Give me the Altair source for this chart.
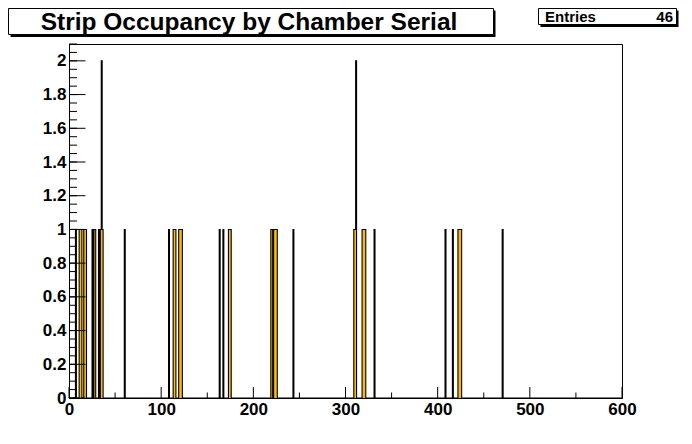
import altair as alt
import pandas as pd

# ---- data ----
serials = [7, 11, 12, 13, 16, 17, 18, 25, 27, 28, 32, 34, 35, 35, 36, 60,
           108, 113, 114, 115, 119, 120, 121, 122, 163, 167, 173, 174, 175,
           219, 220, 222, 223, 224, 225, 243, 309, 310, 311, 311,
           318, 319, 320, 321, 331, 408, 416, 422, 423, 424, 425, 470]
x_labels = [0, 100, 200, 300, 400, 500, 600]
x_minor = [50, 150, 250, 350, 450, 550]
y_labels = [0, 0.2, 0.4, 0.6, 0.8, 1, 1.2, 1.4, 1.6, 1.8, 2]
y_minor = [round(0.05 * k, 2) for k in range(0, 43)]
title_text = "Strip Occupancy by Chamber Serial"
stats_label = "Entries"
stats_value = "46"

N_BINS = 600
counts = [0] * (N_BINS + 1)
for s in serials:
    counts[s] += 1
hist = pd.DataFrame({"edge": list(range(N_BINS + 1)), "count": counts})

W, H = 553, 354
FONT = "Liberation Sans"
ORANGE = "#ffba00"

xs = alt.Scale(domain=[0, 600], nice=False, zero=False)
ys = alt.Scale(domain=[0, 2.1], nice=False, zero=True)
X_AX = alt.Axis(values=x_labels, ticks=False, grid=False, title="",
                labelFont=FONT, labelFontWeight="bold", labelFontSize=17,
                labelColor="black", labelPadding=3, domainColor="black",
                labelFlush=False, labelOverlap=False)
Y_AX = alt.Axis(values=y_labels, format="~g", ticks=False, grid=False, title="",
                labelFont=FONT, labelFontWeight="bold", labelFontSize=17,
                labelColor="black", labelPadding=3, domainColor="black",
                labelFlush=False, labelOverlap=False)

base = alt.Chart(hist)
area = base.mark_area(interpolate="step-after", color=ORANGE).encode(
    x=alt.X("edge:Q", scale=xs, axis=X_AX),
    y=alt.Y("count:Q", scale=ys, axis=Y_AX),
)
line = base.mark_line(interpolate="step-after", color="black", strokeWidth=1.1).encode(
    x=alt.X("edge:Q", scale=xs, axis=X_AX),
    y=alt.Y("count:Q", scale=ys, axis=Y_AX),
)

ymaj = alt.Chart(pd.DataFrame({"v": y_labels})).mark_rule(color="black", strokeWidth=1).encode(
    y=alt.Y("v:Q", scale=ys, axis=Y_AX), x=alt.value(0), x2=alt.value(16.5))
ymin = alt.Chart(pd.DataFrame({"v": y_minor})).mark_rule(color="black", strokeWidth=1).encode(
    y=alt.Y("v:Q", scale=ys, axis=Y_AX), x=alt.value(0), x2=alt.value(8))
xmaj = alt.Chart(pd.DataFrame({"v": x_labels})).mark_rule(color="black", strokeWidth=1).encode(
    x=alt.X("v:Q", scale=xs, axis=X_AX), y=alt.value(H), y2=alt.value(H - 11))
xmin = alt.Chart(pd.DataFrame({"v": x_minor})).mark_rule(color="black", strokeWidth=1).encode(
    x=alt.X("v:Q", scale=xs, axis=X_AX), y=alt.value(H), y2=alt.value(H - 5.5))

one = pd.DataFrame({"a": [0]})
def box(x1, y1, x2, y2, fill, stroke=None):
    kw = dict(fill=fill)
    if stroke:
        kw.update(stroke=stroke, strokeWidth=1)
    return alt.Chart(one).mark_rect(**kw).encode(
        x=alt.value(x1), x2=alt.value(x2), y=alt.value(y1), y2=alt.value(y2))

title_shadow = box(-58.5, -33.5, 426.5, -7, "black")
title_box = box(-60.5, -35.5, 424.5, -9.5, "white", "black")
title_txt = alt.Chart(one).mark_text(
    text=title_text, font=FONT, fontWeight="bold", fontSize=24.5, color="black",
    align="center", baseline="alphabetic").encode(x=alt.value(180), y=alt.value(-14))

stats_shadow = box(471.5, -33.5, 609.5, -17, "black")
stats_box = box(469.5, -35.5, 607.5, -19.5, "white", "black")
stats_l = alt.Chart(one).mark_text(
    text=stats_label, font=FONT, fontWeight="bold", fontSize=15, color="black",
    align="left", baseline="alphabetic").encode(x=alt.value(476), y=alt.value(-22))
stats_v = alt.Chart(one).mark_text(
    text=stats_value, font=FONT, fontWeight="bold", fontSize=15, color="black",
    align="right", baseline="alphabetic").encode(x=alt.value(604), y=alt.value(-22))

chart = alt.layer(
    area, line, ymaj, ymin, xmaj, xmin,
    title_shadow, title_box, title_txt, stats_shadow, stats_box, stats_l, stats_v,
).properties(
    width=W, height=H,
    autosize=alt.AutoSizeParams(type="none"),
    padding={"left": 61, "top": 36, "right": 60, "bottom": 26},
    background="white",
).configure_view(stroke="black", strokeWidth=1)

chart.save("out.html", embed_options={"renderer": "svg", "actions": False})
